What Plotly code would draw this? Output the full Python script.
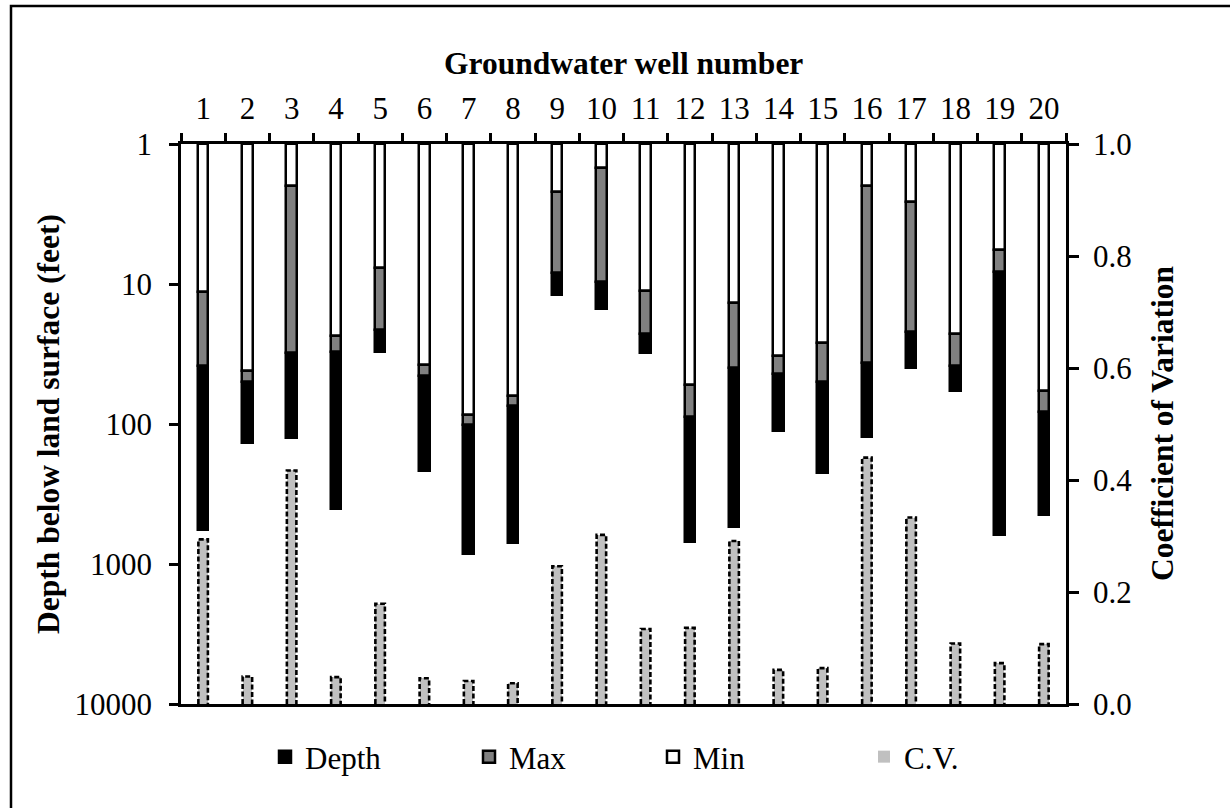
import plotly.graph_objects as go

wells = list(range(1, 21))
well_labels = [str(w) for w in wells]
min_level = [11.4, 41.6, 2.0, 23.4, 7.65, 37.9, 86.2, 62.8, 2.21, 1.49,
             11.3, 52.6, 13.6, 32.5, 26.5, 1.99, 2.61, 22.8, 5.71, 58.1]
max_level = [38.5, 50.4, 31.0, 30.4, 21.3, 45.2, 102, 74.4, 8.39, 9.72,
             22.8, 88.7, 40.0, 44.0, 49.9, 36.5, 21.9, 38.5, 8.17, 81.7]
well_depth = [570, 136, 125, 405, 30.4, 217, 849, 704, 12.0, 15.1,
              31.0, 700, 541, 113, 225, 123, 40.0, 57.8, 621, 447]
cv = [0.294, 0.049, 0.417, 0.048, 0.179, 0.046, 0.041, 0.037, 0.246, 0.302,
      0.134, 0.136, 0.291, 0.061, 0.064, 0.440, 0.333, 0.108, 0.073, 0.107]
depth_ticks = [1, 10, 100, 1000, 10000]

FONT = "Liberation Serif"
W_STACK = 0.235
W_CV = 0.215

fig = go.Figure()

# white: surface to min level
fig.add_trace(go.Bar(
    x=wells, y=[m - 1 for m in min_level], base=[1] * len(wells),
    width=W_STACK, name="Min", legend="legend3",
    marker=dict(color="white", line=dict(color="black", width=2.5)),
))
# gray: min to max level
fig.add_trace(go.Bar(
    x=wells, y=[b - a for a, b in zip(min_level, max_level)], base=min_level,
    width=W_STACK, name="Max", legend="legend2",
    marker=dict(color="#808080", line=dict(color="black", width=2.5)),
))
# black: max level to well depth
fig.add_trace(go.Bar(
    x=wells, y=[d - b for b, d in zip(max_level, well_depth)], base=max_level,
    width=W_STACK, name="Depth", legend="legend",
    marker=dict(color="black", line=dict(color="black", width=2.5)),
))
# C.V. bars on secondary axis
fig.add_trace(go.Bar(
    x=wells, y=cv, yaxis="y2", width=W_CV, name="C.V.", legend="legend4",
    marker=dict(color="#C0C0C0", line=dict(color="#C0C0C0", width=0)),
))
# dashed outline for C.V. bars
ox, oy = [], []
hw = W_CV / 2
for w, v in zip(wells, cv):
    ox += [w - hw, w - hw, w + hw, w + hw, None]
    oy += [0, v, v, 0, None]
fig.add_trace(go.Scatter(
    x=ox, y=oy, yaxis="y2", mode="lines", showlegend=False, hoverinfo="skip",
    line=dict(color="black", width=2.6, dash="5px,2.5px"),
))

L, R, T, B = 181, 164, 144, 104
PW, PH = 1230 - L - R, 808 - T - B

def px_x(p):
    return (p - L) / PW

def px_y(p):
    return (808 - B - p) / PH

leg_common = dict(orientation="h", yanchor="middle", xanchor="left",
                  bgcolor="rgba(0,0,0,0)", font=dict(family=FONT, size=31, color="black"),
                  itemwidth=30, borderwidth=0)

fig.update_layout(
    width=1230, height=808,
    margin=dict(l=L, r=R, t=T, b=B, pad=0),
    paper_bgcolor="white", plot_bgcolor="white",
    barmode="overlay", bargap=0,
    font=dict(family=FONT, size=31, color="black"),
    xaxis=dict(
        range=[0.5, 20.5], side="top", tickmode="array", tickvals=wells,
        ticktext=well_labels, ticks="", showline=True, mirror=True,
        linecolor="black", linewidth=2.5, showgrid=False, zeroline=False,
        tickfont=dict(family=FONT, size=31), ticklabelstandoff=10,
        minor=dict(tickvals=[w - 0.5 for w in wells] + [wells[-1] + 0.5],
                   ticks="outside", ticklen=8, tickwidth=2.5, tickcolor="black"),
    ),
    yaxis=dict(
        type="log", range=[4, 0], tickmode="array", tickvals=depth_ticks,
        ticktext=[str(t) for t in depth_ticks], ticks="outside", ticklen=9,
        tickwidth=2.5, tickcolor="black", showline=True, linecolor="black",
        linewidth=2.5, showgrid=False, zeroline=False,
        tickfont=dict(family=FONT, size=31), ticklabelstandoff=11,
    ),
    yaxis2=dict(
        overlaying="y", side="right", range=[0, 1], dtick=0.2, tick0=0,
        tickformat=".1f", ticks="outside", ticklen=10, tickwidth=2.5,
        tickcolor="black", showline=True, linecolor="black", linewidth=2.5,
        showgrid=False, zeroline=False, tickfont=dict(family=FONT, size=31),
        ticklabelstandoff=8,
    ),
    legend=dict(x=px_x(265), y=px_y(757), **leg_common),
    legend2=dict(x=px_x(469), y=px_y(757), **leg_common),
    legend3=dict(x=px_x(653), y=px_y(757), **leg_common),
    legend4=dict(x=px_x(864), y=px_y(757), **leg_common),
    annotations=[
        dict(text="<b>Groundwater well number</b>", xref="paper", yref="paper",
             x=px_x(623), y=px_y(63), xanchor="center", yanchor="middle",
             showarrow=False, font=dict(family=FONT, size=31.5)),
        dict(text="<b>Depth below land surface (feet)</b>", xref="paper", yref="paper",
             x=px_x(48), y=0.5, xanchor="center", yanchor="middle", textangle=-90,
             showarrow=False, font=dict(family=FONT, size=31.5)),
        dict(text="<b>Coefficient of Variation</b>", xref="paper", yref="paper",
             x=px_x(1162), y=0.5, xanchor="center", yanchor="middle", textangle=-90,
             showarrow=False, font=dict(family=FONT, size=31.5)),
    ],
    shapes=[
        dict(type="rect", xref="paper", yref="paper", x0=px_x(11), y0=px_y(6),
             x1=px_x(1245), y1=px_y(825), line=dict(color="black", width=2.5),
             fillcolor="rgba(0,0,0,0)", layer="below"),
    ],
)

fig.write_html("out.html")
